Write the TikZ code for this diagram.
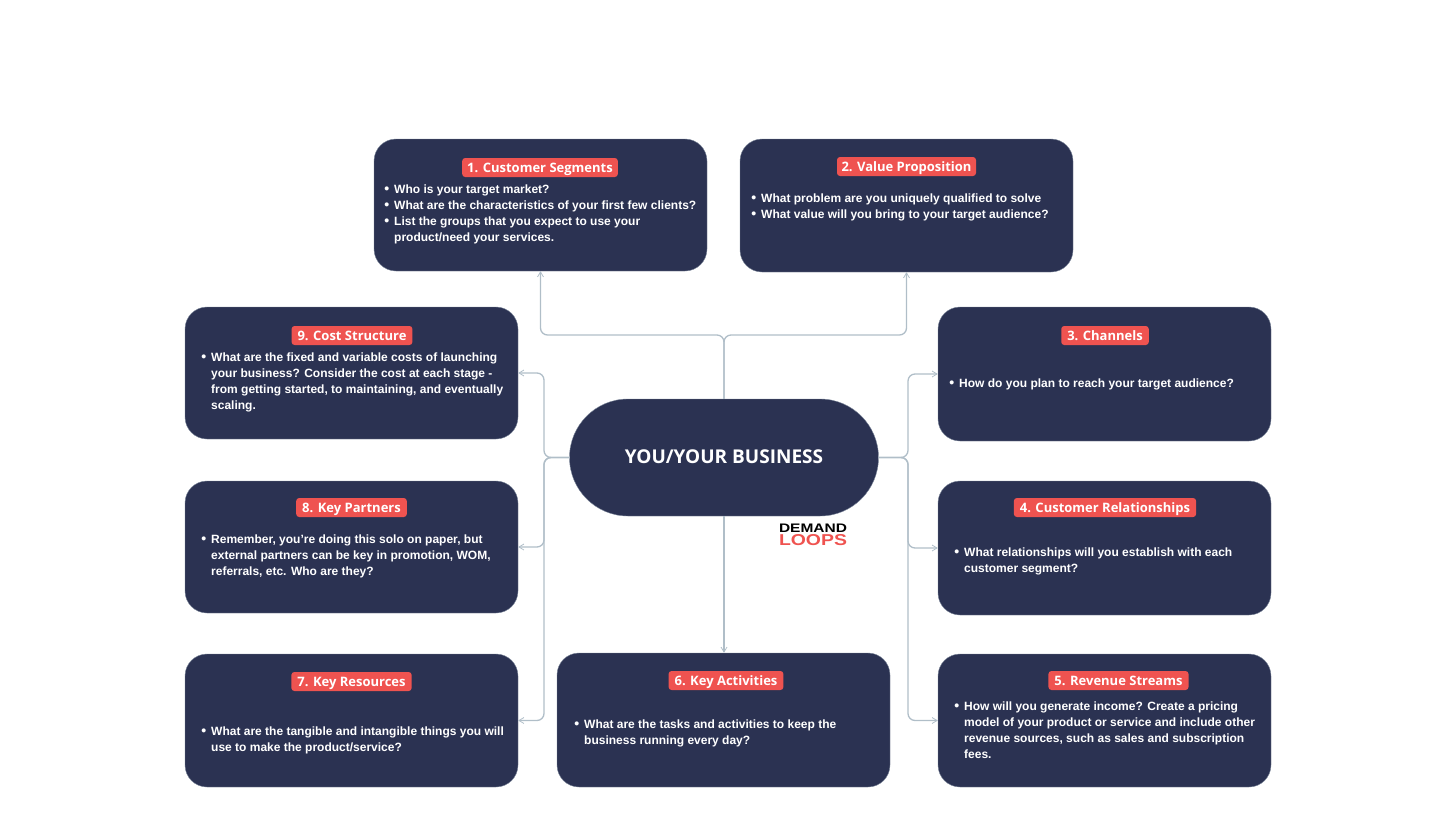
\documentclass[tikz,border=0pt]{standalone}
\usepackage{fontspec}
\setmainfont{Liberation Sans}
\newfontfamily\titlefont{Open Sans}
\newfontfamily\logofont{Liberation Sans}
\usetikzlibrary{shapes.misc,arrows.meta}
\definecolor{navy}{HTML}{2B3252}
\definecolor{coral}{HTML}{EF5350}
\definecolor{wire}{HTML}{B0BEC8}
\newcommand{\bu}{\leavevmode\llap{\raisebox{0pt}{\fontsize{14}{14}\selectfont •}\hspace{5pt}}}
\tikzset{
  x=1pt,y=-1pt,
  card/.style={draw=wire!60!navy,line width=0.4pt,fill=navy,rounded corners=22pt,minimum width=333pt,minimum height=133pt,inner sep=0pt},
  pill/.style={fill=coral,text=white,rounded corners=3pt,inner xsep=6pt,inner ysep=0pt,minimum height=19pt,text height=11pt,text depth=2pt,font=\titlefont\fontsize{13}{16}\bfseries\selectfont},
  body/.style={anchor=north west,inner sep=0pt,text=white,align=left,font=\fontsize{12}{16}\bfseries\selectfont},
  conn/.style={draw=wire,line width=1.3pt,rounded corners=7pt,-{Straight Barb[length=5pt,width=6pt,line width=0.8pt]}},
}
\begin{document}
\begin{tikzpicture}
\useasboundingbox (0,0) rectangle (1456,819);
% cards
\node[card,minimum width=333pt,minimum height=132pt] (n1) at (540.5,205) {};
\node[card,minimum height=133pt] (n2) at (906.5,205.5) {};
\node[card,minimum height=132pt] (n9) at (351.5,373) {};
\node[card,minimum height=134pt] (n3) at (1104.5,374) {};
\node[card,minimum height=132pt] (n8) at (351.5,547) {};
\node[card,minimum height=134pt] (n4) at (1104.5,548) {};
\node[card] (n7) at (351.5,720.5) {};
\node[card,minimum height=134pt] (n6) at (723.5,720) {};
\node[card] (n5) at (1104.5,720.5) {};
\node[draw=wire!60!navy,line width=0.4pt,fill=navy,rounded rectangle,minimum width=309pt,minimum height=117pt,inner sep=0pt,text=white,font=\titlefont\fontsize{19}{22}\bfseries\selectfont] (hub) at (724,457.5) {\raisebox{1.5pt}{YOU/YOUR BUSINESS}};
% junctions
\coordinate (jt) at (724,335);
\coordinate (jl) at (544,457.5);
\coordinate (jr) at (908,457.5);
% connectors
\draw[conn] (hub.north) -- (jt) -| (n1.south);
\draw[conn] (hub.north) -- (jt) -| (n2.south);
\draw[conn] (hub.west) -- (jl) |- (n9.east);
\draw[conn] (hub.west) -- (jl) |- (n8.east);
\draw[conn] (hub.west) -- (jl) |- (n7.east);
\draw[conn] (hub.east) -- (jr) |- (n3.west);
\draw[conn] (hub.east) -- (jr) |- (n4.west);
\draw[conn] (hub.east) -- (jr) |- (n5.west);
\draw[conn] (hub.south) -- (hub.south |- n6.north);
% titles
\node[pill,inner xsep=5pt] (t1) at (540,167.5) {1. Customer Segments};
\node[pill,inner xsep=4.5pt] (t2) at (906.5,166.5) {2. Value Proposition};
\node[pill] (t9) at (352,335.5) {9. Cost Structure};
\node[pill] (t3) at (1105,335.5) {3. Channels};
\node[pill] (t8) at (351.5,507.5) {8. Key Partners};
\node[pill] (t4) at (1105,507.5) {4. Customer Relationships};
\node[pill] (t7) at (351.5,681.5) {7. Key Resources};
\node[pill] (t6) at (726,680.5) {6. Key Activities};
\node[pill] (t5) at (1118.5,680.5) {5. Revenue Streams};
% bodies
\node[body] (b1) at (394,182) {\bu\strut Who is your target market?\\\bu\strut What are the characteristics of your first few clients?\\\bu\strut List the groups that you expect to use your\\\strut product/need your services.};
\node[body] (b2) at (761,191) {\bu\strut What problem are you uniquely qualified to solve\\\bu\strut What value will you bring to your target audience?};
\node[body] (b9) at (211,350) {\bu\strut What are the fixed and variable costs of launching\\\strut your business? Consider the cost at each stage -\\\strut from getting started, to maintaining, and eventually\\\strut scaling.};
\node[body] (b3) at (959,376) {\bu\strut How do you plan to reach your target audience?};
\node[body] (b8) at (211,532) {\bu\strut Remember, you’re doing this solo on paper, but\\\strut external partners can be key in promotion, WOM,\\\strut referrals, etc. Who are they?};
\node[body] (b4) at (964,545) {\bu\strut What relationships will you establish with each\\\strut customer segment?};
\node[body] (b7) at (211,724) {\bu\strut What are the tangible and intangible things you will\\\strut use to make the product/service?};
\node[body] (b6) at (584,717) {\bu\strut What are the tasks and activities to keep the\\\strut business running every day?};
\node[body] (b5) at (964,699) {\bu\strut How will you generate income? Create a pricing\\\strut model of your product or service and include other\\\strut revenue sources, such as sales and subscription\\\strut fees.};
% logo
\node[inner sep=0pt,font=\logofont\fontsize{12.5}{13}\bfseries\selectfont,text=black] (logoa) at (813,528.5) {\resizebox{68pt}{8.5pt}{DEMAND}};
\node[inner sep=0pt,font=\logofont\fontsize{12.5}{13}\bfseries\selectfont,text=coral] (logob) at (813,540.5) {\resizebox{68pt}{11pt}{LOOPS}};
\end{tikzpicture}
\end{document}
